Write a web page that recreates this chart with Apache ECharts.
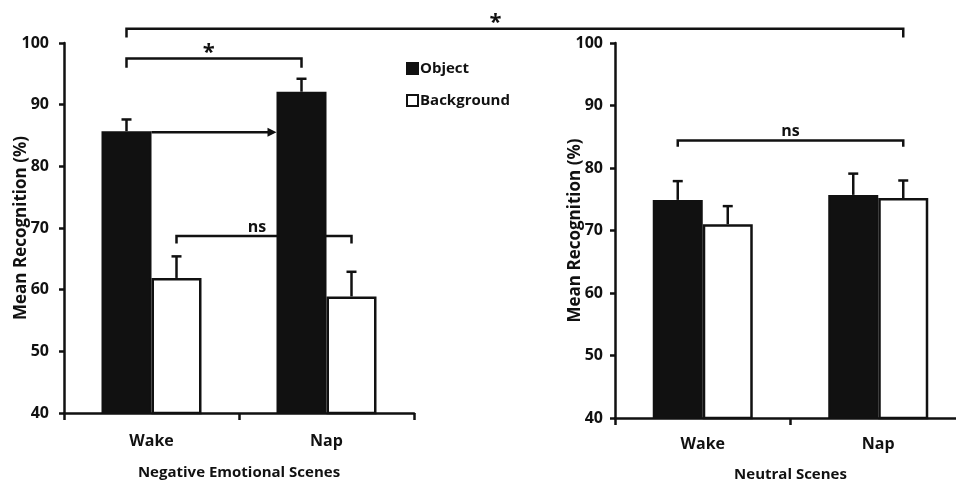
<!DOCTYPE html>
<html>
<head>
<meta charset="utf-8">
<script src="https://cdn.jsdelivr.net/npm/echarts@6/dist/echarts.min.js"></script>
<style>
  html, body { margin: 0; padding: 0; background: #fff; }
  #chart { width: 956px; height: 485px; }
</style>
</head>
<body>
<div id="chart"></div>
<script>
// ---- data -------------------------------------------------------------
const conditions = ['Wake', 'Nap'];
const seriesNames = ['Object', 'Background'];
const panelTitles = ['Negative Emotional Scenes', 'Neutral Scenes'];
const yTitle = 'Mean Recognition (%)';
const yMin = 40, yMax = 100, yStep = 10;

// Negative emotional scenes (mean, SEM)
const negObject = [85.7, 92.1];
const negObjectErr = [1.9, 2.1];
const negBackground = [61.9, 58.9];
const negBackgroundErr = [3.5, 4.0];

// Neutral scenes (mean, SEM)
const neuObject = [74.9, 75.7];
const neuObjectErr = [3.0, 3.4];
const neuBackground = [71.0, 75.2];
const neuBackgroundErr = [2.9, 2.8];

// Significance brackets: ends given as [condition index, series index], level in % units
const brackets = [
  { grid: 0, from: [0, 0], to: [1, 0], level: 97.5, drop: 1.5, text: '*', at: 0.47 },
  { grid: 0, from: [0, 1], to: [1, 1], level: 68.7, drop: 1.2, text: 'ns', at: 0.46 },
  { grid: 1, from: [0, 0], to: [1, 1], level: 84.4, drop: 1.0, text: 'ns', at: 0.5 }
];
// bracket spanning both panels: ends as [panel, condition, series]
const spanBracket = { from: [0, 0, 0], to: [1, 1, 1], level: 102.3, drop: 1.4, text: '*', at: 0.475 };
// Wake -> Nap arrow for object memory in negative scenes
const objectArrow = { grid: 0, from: 0, to: 1, value: negObject[0] };

// ---- styling ----------------------------------------------------------
const INK = '#111';
const FONT = '"Open Sans", "DejaVu Sans", sans-serif';
const BAR_W = 50;

const chart = echarts.init(document.getElementById('chart'));

const panels = [
  { obj: negObject, objErr: negObjectErr, bg: negBackground, bgErr: negBackgroundErr },
  { obj: neuObject, objErr: neuObjectErr, bg: neuBackground, bgErr: neuBackgroundErr }
];

const grids = [
  { left: 64, top: 43, width: 350, height: 370, outerBoundsMode: 'none', containLabel: false },
  { left: 615, top: 43, width: 351, height: 375, outerBoundsMode: 'none', containLabel: false }
];

const xAxes = panelTitles.map((t, i) => ({
  type: 'category',
  gridIndex: i,
  data: conditions,
  name: t,
  nameLocation: 'middle',
  nameGap: i === 0 ? 52 : 49,
  nameMoveOverlap: false,
  nameTextStyle: { fontFamily: FONT, fontSize: 15, fontWeight: 'bold', color: INK },
  axisLine: { lineStyle: { color: INK, width: 2.5 } },
  axisTick: { show: true, length: 7, lineStyle: { color: INK, width: 2.5 } },
  axisLabel: { margin: i === 0 ? 20 : 18, fontFamily: FONT, fontSize: 16, fontWeight: 'bold', color: INK },
  splitLine: { show: false }
}));

const yAxes = panelTitles.map((t, i) => ({
  type: 'value',
  gridIndex: i,
  min: yMin, max: yMax, interval: yStep,
  name: yTitle,
  nameLocation: 'middle',
  nameGap: i === 0 ? 34 : 31,
  nameMoveOverlap: false,
  nameTextStyle: { fontFamily: FONT, fontSize: 17, fontWeight: 'bold', color: INK },
  axisLine: { show: true, lineStyle: { color: INK, width: 2.5 } },
  axisTick: { show: true, length: 5, lineStyle: { color: INK, width: 2.5 } },
  axisLabel: { margin: i === 0 ? 15 : 12, fontFamily: FONT, fontSize: 16, fontWeight: 'bold', color: INK },
  splitLine: { show: false }
}));

const series = [];
panels.forEach((p, g) => {
  series.push({
    name: seriesNames[0], type: 'bar', xAxisIndex: g, yAxisIndex: g,
    data: p.obj, barWidth: BAR_W, barGap: '0%',
    itemStyle: { color: INK, borderColor: INK, borderWidth: 2 },
    emphasis: { disabled: true }, z: 2
  });
  series.push({
    name: seriesNames[1], type: 'bar', xAxisIndex: g, yAxisIndex: g,
    data: p.bg, barWidth: BAR_W, barGap: '0%',
    itemStyle: { color: '#fff', borderColor: INK, borderWidth: 2.5 },
    emphasis: { disabled: true }, z: 2
  });
  const errData = [];
  conditions.forEach((c, k) => {
    errData.push([k, p.obj[k], p.objErr[k], 0]);
    errData.push([k, p.bg[k], p.bgErr[k], 1]);
  });
  series.push({
    type: 'custom', xAxisIndex: g, yAxisIndex: g, z: 3, silent: true,
    data: errData,
    encode: { x: 0, y: 1 },
    renderItem: (params, api) => {
      const cat = api.value(0), v = api.value(1), e = api.value(2), s = api.value(3);
      const base = api.coord([cat, v]);
      const top = api.coord([cat, v + e]);
      const x = base[0] + (s ? 1 : -1) * BAR_W / 2;
      return {
        type: 'group',
        children: [
          { type: 'line', shape: { x1: x, y1: base[1], x2: x, y2: top[1] }, style: { stroke: INK, lineWidth: 2.5 } },
          { type: 'line', shape: { x1: x - 5, y1: top[1], x2: x + 5, y2: top[1] }, style: { stroke: INK, lineWidth: 2.5 } }
        ]
      };
    }
  });
});

chart.setOption({
  animation: false,
  backgroundColor: '#fff',
  textStyle: { fontFamily: FONT },
  legend: {
    data: seriesNames,
    orient: 'vertical',
    left: 401, top: 56,
    itemWidth: 11, itemHeight: 11, itemGap: 17,
    icon: 'rect',
    selectedMode: false,
    textStyle: { fontFamily: FONT, fontSize: 15, fontWeight: 'bold', color: INK, padding: [0, 0, 0, -3] }
  },
  grid: grids,
  xAxis: xAxes,
  yAxis: yAxes,
  series: series
});

// ---- annotations placed through the axes' own scales --------------------
function barTop(grid, cat, s, value) {
  const pt = chart.convertToPixel({ gridIndex: grid }, [conditions[cat], value]);
  return [pt[0] + (s ? 1 : -1) * BAR_W / 2, pt[1]];
}
function yPix(grid, value) {
  return chart.convertToPixel({ gridIndex: grid }, [conditions[0], value])[1];
}

const graphics = [];
function addBracket(x1, x2, yLine, yEnd, text, at) {
  const lw = 2.5;
  graphics.push({ type: 'polyline', silent: true,
    shape: { points: [[x1, yEnd], [x1, yLine], [x2, yLine], [x2, yEnd]] },
    style: { stroke: INK, lineWidth: lw, fill: null } });
  const big = text === '*';
  graphics.push({ type: 'text', silent: true,
    x: x1 + (x2 - x1) * at, y: yLine - (big ? -5 : 1),
    style: { text: text, fill: INK, font: `bold ${big ? 22 : 16}px ${FONT}`, align: 'center', verticalAlign: 'bottom' } });
}

brackets.forEach(b => {
  const x1 = barTop(b.grid, b.from[0], b.from[1], b.level)[0];
  const x2 = barTop(b.grid, b.to[0], b.to[1], b.level)[0];
  addBracket(x1, x2, yPix(b.grid, b.level), yPix(b.grid, b.level - b.drop), b.text, b.at);
});

(function () {
  const b = spanBracket;
  const x1 = barTop(b.from[0], b.from[1], b.from[2], b.level)[0];
  const x2 = barTop(b.to[0], b.to[1], b.to[2], b.level)[0];
  addBracket(x1, x2, yPix(0, b.level), yPix(0, b.level - b.drop), b.text, b.at);
})();

(function () {
  const a = objectArrow;
  const start = barTop(a.grid, a.from, 0, a.value);
  const end = barTop(a.grid, a.to, 0, a.value);
  const xs = start[0] + BAR_W / 2;
  const xe = end[0] - BAR_W / 2;
  const y = start[1] + 1;
  graphics.push({ type: 'line', silent: true, shape: { x1: xs, y1: y, x2: xe - 6, y2: y }, style: { stroke: INK, lineWidth: 2.5 } });
  graphics.push({ type: 'polygon', silent: true, shape: { points: [[xe, y], [xe - 9, y - 4.5], [xe - 9, y + 4.5]] }, style: { fill: INK } });
})();

chart.setOption({ graphic: graphics });
</script>
</body>
</html>
